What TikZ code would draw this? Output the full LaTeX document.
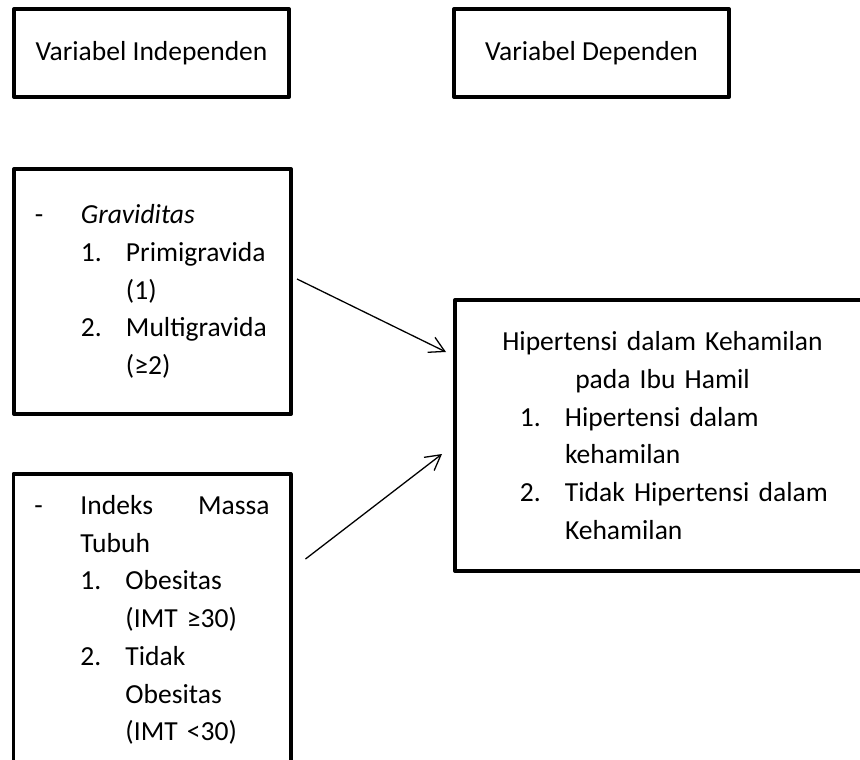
\documentclass[tikz,border=0pt]{standalone}
\usepackage{fontspec}
\setmainfont{Carlito}
\usetikzlibrary{arrows.meta, positioning}
\tikzset{
    boxnode/.style={rectangle, draw, line width=3.4pt, line join=round, inner sep=0pt, font=\fontsize{23.5}{32.2}\selectfont},
    headnode/.style={boxnode, minimum width=8.25cm, minimum height=2.64cm},
    listnode/.style={boxnode, align=left, text width=7.05cm, minimum width=8.31cm},
    outnode/.style={boxnode, align=left, text width=9.9cm, minimum width=12.9cm, minimum height=8.13cm},
    linkarrow/.style={->, line width=1.1pt}
}

\begin{document}
\begin{tikzpicture}[x=0.03cm, y=-0.03cm, >={Straight Barb[length=0.45cm, width=0.5cm]}]
  \useasboundingbox (0,0) rectangle (860,760);
  \node[headnode] (indep) at (151.5, 53) {Variabel Independen};
  \node[headnode] (dep) at (591.5, 53) {Variabel Dependen};
  \node[listnode, minimum height=7.35cm] (grav) at (152.5, 291.5) {%
    \makebox[1.38cm][l]{-}\textit{Graviditas}\\
    \hspace*{1.38cm}\makebox[1.35cm][l]{1.}Primigravida\\
    \hspace*{2.73cm}(1)\\
    \hspace*{1.38cm}\makebox[1.35cm][l]{2.}Multigravida\\
    \hspace*{2.73cm}(≥2)};
  \node[listnode, minimum height=8.76cm] (imt) at (152, 620) {%
    \makebox[1.38cm][l]{-}Indeks\hfill Massa\\
    \hspace*{1.38cm}Tubuh\\
    \hspace*{1.38cm}\makebox[1.35cm][l]{1.}Obesitas\\
    \hspace*{2.73cm}(IMT ≥30)\\
    \hspace*{1.38cm}\makebox[1.35cm][l]{2.}Tidak\\
    \hspace*{2.73cm}Obesitas\\
    \hspace*{2.73cm}(IMT <30)};
  \node[outnode] (hdk) at (670, 435.5) {%
    \makebox[9.45cm]{Hipertensi dalam Kehamilan}\\
    \makebox[9.45cm]{pada Ibu Hamil}\\
    \hspace*{0.45cm}\makebox[1.35cm][l]{1.}Hipertensi dalam\\
    \hspace*{1.8cm}kehamilan\\
    \hspace*{0.45cm}\makebox[1.35cm][l]{2.}Tidak Hipertensi dalam\\
    \hspace*{1.8cm}Kehamilan};
  \draw[linkarrow] ([shift={(4,-12.5)}]grav.east) -- ([shift={(-7,-83.5)}]hdk.west);
  \draw[linkarrow] ([shift={(13,-61)}]imt.east) -- ([shift={(-11,18.5)}]hdk.west);
\end{tikzpicture}
\end{document}
